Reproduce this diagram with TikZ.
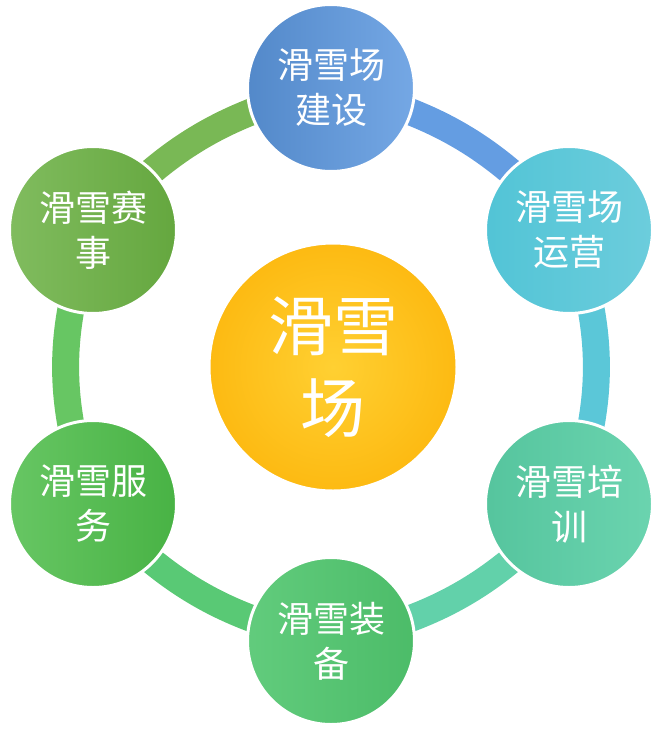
\documentclass[tikz,border=0pt]{standalone}
\usepackage{fontspec}
\newfontfamily\cjk{Noto Sans CJK SC}
\usetikzlibrary{positioning}
\usetikzlibrary{backgrounds}
\definecolor{hubA}{RGB}{255,208,50}
\definecolor{hubB}{RGB}{253,186,18}
\definecolor{jianshe}{RGB}{92,152,224}
\definecolor{yunying}{RGB}{82,196,214}
\definecolor{peixun}{RGB}{90,207,166}
\definecolor{zhuangbei}{RGB}{80,198,110}
\definecolor{fuwu}{RGB}{76,188,72}
\definecolor{saishi}{RGB}{106,176,66}
\tikzset{
  topic/.style={circle, minimum size=167pt, inner sep=0pt, draw=white, line width=3pt,
    text=white, align=center, font=\cjk\fontsize{36}{45}\selectfont},
  ring/.style={line width=27pt}
}

\begin{document}
\begin{tikzpicture}[x=1pt,y=-1pt]
        \useasboundingbox (0,0) rectangle (668,736);
        % nodes %
        \node[circle, minimum size=248pt, inner sep=0pt, draw=white, line width=3pt, inner color=hubA, outer color=hubB,
          text=white, align=center, font=\cjk\fontsize{65}{82}\selectfont] (hub) at (333,367) {滑雪\\场};
        \node[topic, left color=jianshe!90!black, right color=jianshe!85!white] (jianshe) at (331,88) {滑雪场\\建设};
        \node[topic, left color=yunying, right color=yunying!85!white] (yunying) at (569,230) {滑雪场\\运营};
        \node[topic, left color=peixun!95!black, right color=peixun!90!white] (peixun) at (569,504) {滑雪培\\训};
        \node[topic, left color=zhuangbei!90!white, right color=zhuangbei!95!black] (zhuangbei) at (331,641) {滑雪装\\备};
        \node[topic, left color=fuwu!85!white, right color=fuwu!95!black] (fuwu) at (93,504) {滑雪服\\务};
        \node[topic, left color=saishi!85!white, right color=saishi!95!black] (saishi) at (93,230) {滑雪赛\\事};
        % edges %
        \begin{pgfonlayer}{background}
        \draw[ring, color=jianshe!95!white] (jianshe.center) to[bend left=18] (yunying.center);
        \draw[ring, color=yunying!95!white] (yunying.center) to[bend left=20] (peixun.center);
        \draw[ring, color=peixun!95!white] (peixun.center) to[bend left=18] (zhuangbei.center);
        \draw[ring, color=zhuangbei!95!white] (zhuangbei.center) to[bend left=18] (fuwu.center);
        \draw[ring, color=fuwu!85!white] (fuwu.center) to[bend left=20] (saishi.center);
        \draw[ring, color=saishi!90!white] (saishi.center) to[bend left=18] (jianshe.center);
        \end{pgfonlayer}
\end{tikzpicture}
\end{document}
